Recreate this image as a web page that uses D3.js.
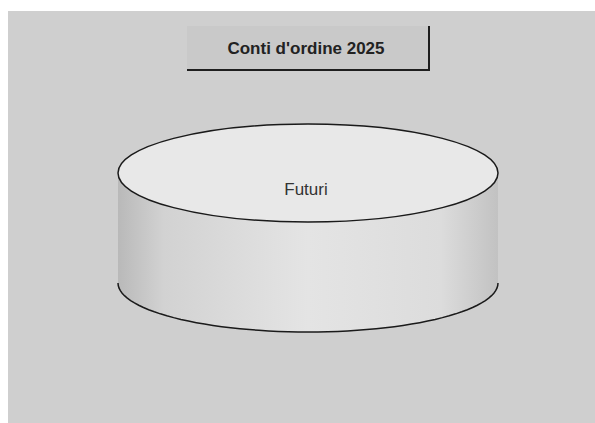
<!DOCTYPE html>
<html>
<head>
<meta charset="utf-8">
<script src="https://cdn.jsdelivr.net/npm/d3@7"></script>
<style>
  body { margin: 0; background: #fff; }
  svg { display: block; font-family: "Liberation Sans", Arial, sans-serif; }
</style>
</head>
<body>
<svg width="595" height="423"></svg>
<script>
// Chart data.
var title = "Conti d'ordine 2025";
var categories = ["Futuri"];
var values = [100];

var svg = d3.select("svg"),
    w = 595,
    h = 423;

var cx = 308, cy = 173,   // centre of the top face
    rx = 190, ry = 49,    // ellipse radii
    depth = 110;          // height of the cylinder wall

var defs = svg.append("defs");

// side wall shading, dark at edges, light in the middle
var grad = defs.append("linearGradient")
    .attr("id", "wall")
    .attr("x1", "0%").attr("x2", "100%")
    .attr("y1", "0%").attr("y2", "0%");
grad.append("stop").attr("offset", "0%").attr("stop-color", "#b9b9b9");
grad.append("stop").attr("offset", "12%").attr("stop-color", "#d2d2d2");
grad.append("stop").attr("offset", "50%").attr("stop-color", "#e4e4e4");
grad.append("stop").attr("offset", "85%").attr("stop-color", "#dcdcdc");
grad.append("stop").attr("offset", "100%").attr("stop-color", "#c2c2c2");

// plot area background
svg.append("rect")
    .attr("x", 8).attr("y", 11)
    .attr("width", w - 8).attr("height", h - 11)
    .attr("fill", "#cfcfcf");

// title box
var tb = {x: 187, y: 26, w: 242, h: 44};
svg.append("rect")
    .attr("x", tb.x).attr("y", tb.y)
    .attr("width", tb.w).attr("height", tb.h)
    .attr("fill", "#c9c9c9");
svg.append("path")
    .attr("d", "M" + (tb.x) + "," + (tb.y + tb.h) + "H" + (tb.x + tb.w) + "V" + tb.y)
    .attr("fill", "none")
    .attr("stroke", "#1e1e1e")
    .attr("stroke-width", 2);
svg.append("text")
    .attr("x", tb.x + tb.w / 2 - 2)
    .attr("y", tb.y + 28)
    .attr("text-anchor", "middle")
    .attr("font-size", 17)
    .attr("font-weight", "bold")
    .attr("fill", "#222")
    .text(title);

// pie layout
var pie = d3.pie().sort(null);
var arcs = pie(values);

// point on ellipse for a d3 angle (0 = 12 o'clock, clockwise)
function pt(a, yOff) {
  return [cx + rx * Math.sin(a), cy - ry * Math.cos(a) + yOff];
}

var line = d3.line();

// side walls (front half only)
arcs.forEach(function(d) {
  var s = Math.max(d.startAngle, Math.PI / 2),
      e = Math.min(d.endAngle, 3 * Math.PI / 2);
  if (e <= s) return;
  var steps = d3.range(0, 61).map(function(i) { return s + (e - s) * i / 60; });
  var topEdge = steps.map(function(a) { return pt(a, 0); });
  var botEdge = steps.slice().reverse().map(function(a) { return pt(a, depth); });
  svg.append("path")
      .attr("d", line(topEdge.concat(botEdge)) + "Z")
      .attr("fill", "url(#wall)");
  svg.append("path")
      .attr("d", line(botEdge))
      .attr("fill", "none")
      .attr("stroke", "#1a1a1a")
      .attr("stroke-width", 1.5);
});

// top faces
var arc = d3.arc().innerRadius(0).outerRadius(rx);
var topG = svg.append("g")
    .attr("transform", "translate(" + cx + "," + cy + ") scale(1," + (ry / rx) + ")");
topG.selectAll("path")
    .data(arcs)
    .join("path")
    .attr("d", arc)
    .attr("fill", "#e8e8e8")
    .attr("stroke", "#1a1a1a")
    .attr("stroke-width", 1.5)
    .attr("vector-effect", "non-scaling-stroke");

// labels
svg.selectAll("text.lbl")
    .data(arcs)
    .join("text")
    .attr("class", "lbl")
    .attr("x", function(d) {
      return arcs.length === 1 ? cx - 2 : cx + rx * 0.6 * Math.sin((d.startAngle + d.endAngle) / 2);
    })
    .attr("y", function(d) {
      return arcs.length === 1 ? cy + 22 : cy - ry * 0.6 * Math.cos((d.startAngle + d.endAngle) / 2) + 6;
    })
    .attr("text-anchor", "middle")
    .attr("font-size", 17)
    .attr("fill", "#333")
    .text(function(d, i) { return categories[i]; });
</script>
</body>
</html>
